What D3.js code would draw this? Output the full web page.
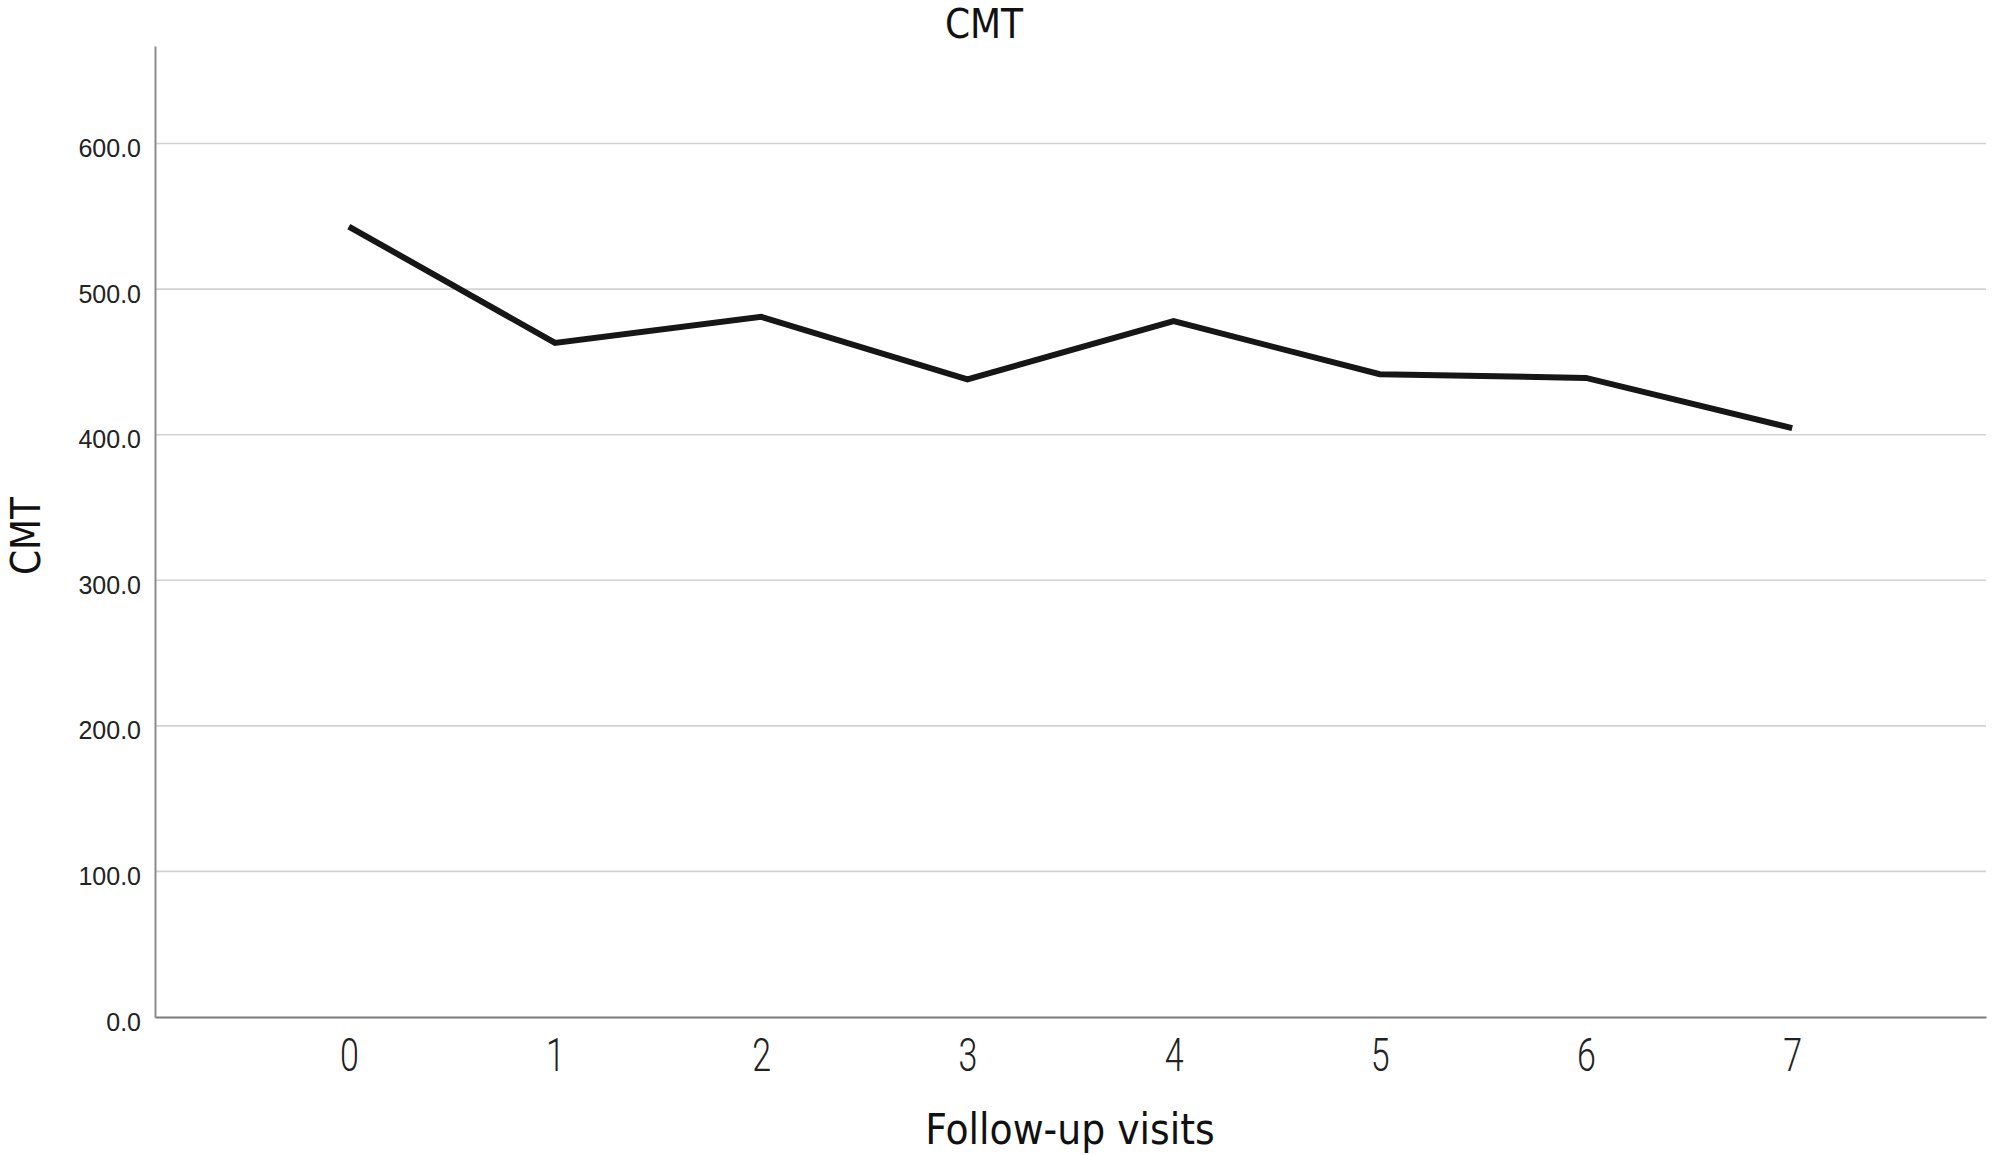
<!DOCTYPE html>
<html>
<head>
<meta charset="utf-8">
<script src="https://cdn.jsdelivr.net/npm/d3@7"></script>
<style>
  html, body { margin: 0; padding: 0; background: #fff; }
  svg { display: block; }
</style>
</head>
<body>
<svg id="chart" width="2008" height="1155"></svg>
<script>
// ---- data ----
const visits = [0, 1, 2, 3, 4, 5, 6, 7];
const cmtValues = [543, 463, 481, 438, 478, 441.5, 439, 404.5];
const yTicks = [0, 100, 200, 300, 400, 500, 600];
const titleText = "CMT";
const xAxisTitle = "Follow-up visits";
const yAxisTitle = "CMT";

// ---- layout ----
const W = 2008, H = 1155;
const plot = { left: 155, right: 1986, top: 46, bottom: 1017 };

const svg = d3.select("#chart");

const x = d3.scaleLinear().domain([-0.94, 7.94]).range([plot.left, plot.right]);
const y = d3.scaleLinear().domain([0, 667]).range([plot.bottom, plot.top]);

// gridlines
svg.append("g")
  .selectAll("line")
  .data(yTicks.filter(d => d > 0))
  .join("line")
  .attr("x1", plot.left).attr("x2", plot.right)
  .attr("y1", d => y(d)).attr("y2", d => y(d))
  .attr("stroke", "#d2d2d2").attr("stroke-width", 1.6);

// y axis
const yAxis = d3.axisLeft(y).tickValues(yTicks).tickSize(0).tickPadding(14)
  .tickFormat(d3.format(".1f"));
const gy = svg.append("g").attr("transform", `translate(${plot.left},0)`).call(yAxis);
gy.select(".domain").attr("stroke", "#8c8c8c").attr("stroke-width", 2);
gy.selectAll("text")
  .attr("font-family", "'Liberation Sans', Arial, sans-serif")
  .attr("font-size", 25)
  .attr("fill", "#222")
  .attr("dy", "0.52em");

// x axis
const xAxis = d3.axisBottom(x).tickValues(visits).tickSize(0).tickPadding(0)
  .tickFormat(d3.format("d"));
const gx = svg.append("g").attr("transform", `translate(0,${plot.bottom})`).call(xAxis);
gx.select(".domain").attr("stroke", "#7a7a7a").attr("stroke-width", 2.2);
gx.selectAll("text")
  .attr("font-family", "Roboto, sans-serif")
  .attr("font-weight", 300)
  .attr("font-size", 46)
  .attr("fill", "#222")
  .attr("y", 0).attr("dy", 0)
  .attr("transform", "translate(0,54) scale(0.74,1)");

// line
const line = d3.line().x((d, i) => x(visits[i])).y(d => y(d));
svg.append("path")
  .datum(cmtValues)
  .attr("d", line)
  .attr("fill", "none")
  .attr("stroke", "#161616")
  .attr("stroke-width", 6)
  .attr("stroke-linejoin", "miter");

// title
svg.append("text")
  .attr("x", 984).attr("y", 38)
  .attr("text-anchor", "middle")
  .attr("font-family", "'DejaVu Sans Condensed', 'DejaVu Sans', sans-serif")
  .attr("font-size", 40)
  .attr("fill", "#111")
  .text(titleText);

// x axis title
svg.append("text")
  .attr("x", 1070).attr("y", 1144)
  .attr("text-anchor", "middle")
  .attr("font-family", "'DejaVu Sans Condensed', 'DejaVu Sans', sans-serif")
  .attr("font-size", 42)
  .attr("fill", "#111")
  .text(xAxisTitle);

// y axis title
svg.append("text")
  .attr("transform", "translate(40,536) rotate(-90)")
  .attr("text-anchor", "middle")
  .attr("font-family", "'DejaVu Sans Condensed', 'DejaVu Sans', sans-serif")
  .attr("font-size", 40)
  .attr("fill", "#111")
  .text(yAxisTitle);
</script>
</body>
</html>
